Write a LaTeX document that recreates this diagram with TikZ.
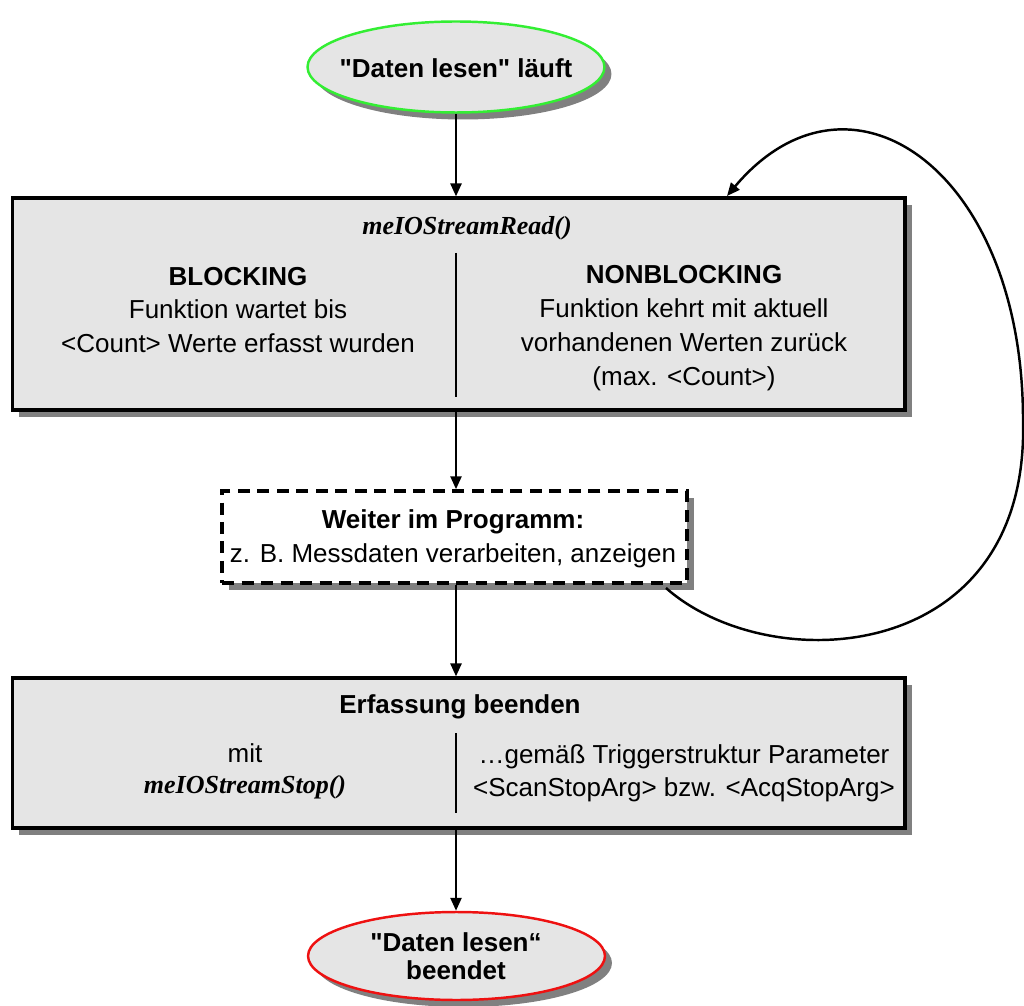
\documentclass[tikz,border=0pt]{standalone}
\usepackage{fontspec}
\setmainfont{Liberation Sans}
\newfontfamily\codefont{Liberation Serif}
\usetikzlibrary{arrows.meta,shadows,shapes.geometric}

\definecolor{boxgray}{HTML}{E5E5E5}
\definecolor{shadowgray}{HTML}{808080}
\definecolor{startgreen}{HTML}{33EE33}
\definecolor{endred}{HTML}{EE1111}

% function names in bold italic serif
\newcommand{\fnname}[1]{{\codefont\bfseries\itshape #1}}

\begin{document}
\begin{tikzpicture}[x=0.02cm,y=-0.02cm,
  txt/.style={font=\fontsize{14.8}{19.3}\selectfont, align=center, inner sep=0pt},
  shadowed/.style={drop shadow={shadow xshift=0.14cm, shadow yshift=-0.14cm,
      fill=shadowgray, opacity=1}},
  terminal/.style={ellipse, shadowed, fill=boxgray, line width=1.4pt,
      minimum width=5.94cm, inner sep=0pt},
  mainbox/.style={rectangle, shadowed, fill=boxgray, draw=black, line width=1.8pt,
      minimum width=17.86cm, inner sep=0pt},
  dashbox/.style={rectangle, shadowed, fill=white, draw=black, line width=2pt,
      dash pattern=on 0.24cm off 0.15cm, minimum width=9.3cm, minimum height=1.84cm,
      inner sep=0pt},
  divider/.style={line width=1.5pt},
  flow/.style={line width=1.4pt, -{Triangle[length=0.26cm,width=0.22cm]}}
]
\useasboundingbox (0,0) rectangle (1024,1006);

% start and end terminals
\node[terminal, draw=startgreen, minimum height=1.82cm] (start) at (456,67) {};
\node[txt, font=\fontsize{14.8}{19.3}\selectfont\bfseries] (starttxt) at (456,68) {\textquotedbl Daten lesen\textquotedbl{} läuft};

\node[terminal, draw=endred, minimum height=1.76cm] (stop) at (456.5,956) {};
\node[txt, font=\fontsize{14.8}{15.9}\selectfont\bfseries] (stoptxt) at (456,956) {\textquotedbl Daten lesen“\\beendet};

% reading step
\node[mainbox, minimum height=4.24cm] (read) at (458.5,304) {};
\node[txt] (readtitle) at (467,228) {\fnname{meIOStreamRead()}};
\draw[divider] (456,253) -- (456,397);
\node[txt] (blocking) at (238,310) {\textbf{BLOCKING}\\Funktion wartet bis\\<Count> Werte erfasst wurden};
\node[txt] (nonblocking) at (684,328) {\textbf{NONBLOCKING}\\Funktion kehrt mit aktuell\\vorhandenen Werten zurück\\(max. <Count>)};

% processing in the application
\node[dashbox] (proc) at (454.5,537) {};
\node[txt] (proctxt) at (453,538.5) {\textbf{Weiter im Programm:}\\z. B. Messdaten verarbeiten, anzeigen};

% stopping the acquisition
\node[mainbox, minimum height=3cm] (halt) at (458.5,753) {};
\node[txt, font=\fontsize{14.8}{19.3}\selectfont\bfseries] (halttitle) at (460,707) {Erfassung beenden};
\draw[divider] (456,733) -- (456,813);
\node[txt, font=\fontsize{14.8}{17.6}\selectfont] (haltleft) at (245,771) {mit\\\fnname{meIOStreamStop()}};
\node[txt, font=\fontsize{14.8}{18.7}\selectfont] (haltright) at (684,773) {…gemäß Triggerstruktur Parameter\\<ScanStopArg> bzw. <AcqStopArg>};

% main flow
\draw[flow] (start.south) -- (start.south |- read.north);
\draw[flow] (read.south -| start.south) -- (start.south |- proc.north);
\draw[flow] (proc.south -| start.south) -- (start.south |- halt.north);
\draw[flow] (halt.south -| start.south) -- (start.south |- stop.north);

% loop back to the reading step
\coordinate (loopfrom) at (666,588);
\coordinate (loopside) at (1023,420);
\coordinate (loopto) at (727,196);
\draw[flow] (loopfrom) .. controls (770,680) and (1030,665) .. (loopside)
  .. controls (1023,170) and (850,50) .. (loopto);
\end{tikzpicture}
\end{document}
